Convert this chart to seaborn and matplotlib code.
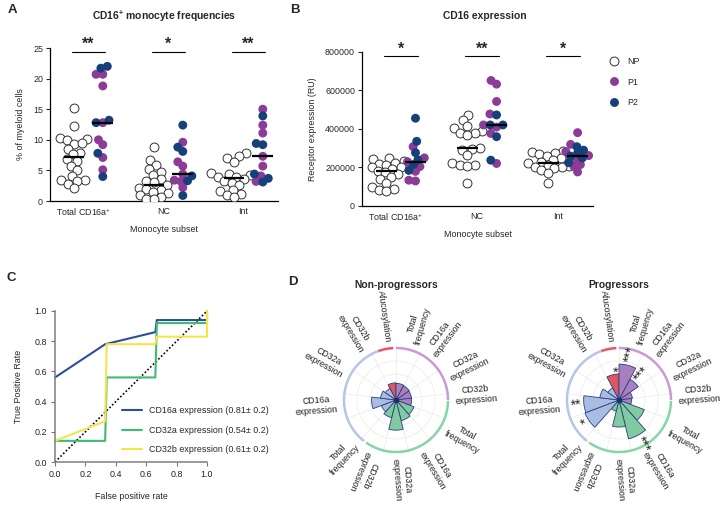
import warnings
import numpy as np
import pandas as pd
import matplotlib
matplotlib.use("Agg")
import matplotlib.pyplot as plt
import seaborn as sns
from matplotlib.lines import Line2D
from matplotlib.collections import PathCollection

warnings.filterwarnings("ignore")

sns.set_theme(style="ticks")
plt.rcParams["font.family"] = ["Liberation Sans", "DejaVu Sans"]
plt.rcParams["mathtext.default"] = "regular"

subsets = ["Total CD16a$^{+}$", "NC", "Int"]

# panel A - % of myeloid cells (Total, NC, Int)
freq_np = [
    [15.2, 12.2, 10.2, 10.3, 9.9, 9.3, 9.4, 8.5, 7.8, 7.6, 6.6, 6.8, 5.8, 5.0, 4.1, 3.4, 3.2, 3.4, 2.8, 2.1],
    [8.9, 6.7, 5.9, 5.3, 4.8, 4.3, 3.6, 3.3, 3.1, 2.6, 2.2, 2.0, 1.8, 1.5, 1.3, 0.9, 0.6, 0.3, 0.3],
    [7.8, 7.3, 7.0, 6.4, 4.6, 4.4, 4.2, 4.0, 3.9, 3.6, 3.3, 3.0, 2.6, 1.8, 1.6, 1.2, 0.9, 0.6],
]
freq_p1 = [
    [20.7, 20.7, 18.8, 12.8, 10.0, 9.2, 7.1, 5.1],
    [9.6, 6.4, 5.7, 4.4, 3.4, 3.2, 2.2],
    [15.0, 12.4, 11.1, 7.3, 5.7, 4.1, 3.2],
]
freq_p2 = [
    [22.0, 21.7, 13.2, 12.8, 7.8, 4.0],
    [12.4, 8.8, 8.1, 4.1, 3.3, 0.9],
    [13.9, 9.4, 9.2, 4.4, 3.7, 3.1],
]
freq_stars = ["**", "*", "**"]

# panel B - receptor expression (RU)
expr_np = [
    [250e3, 245e3, 235e3, 225e3, 220e3, 215e3, 205e3, 200e3, 190e3, 180e3, 175e3, 165e3, 150e3, 140e3, 120e3, 100e3, 90e3, 85e3, 80e3],
    [475e3, 447e3, 416e3, 405e3, 390e3, 381e3, 380e3, 370e3, 300e3, 295e3, 290e3, 264e3, 221e3, 215e3, 212e3, 210e3, 117e3],
    [287e3, 282e3, 277e3, 270e3, 262e3, 250e3, 240e3, 230e3, 221e3, 215e3, 210e3, 205e3, 200e3, 195e3, 186e3, 169e3, 122e3],
]
expr_p1 = [
    [308e3, 250e3, 230e3, 205e3, 180e3, 134e3, 130e3],
    [652e3, 633e3, 543e3, 478e3, 421e3, 410e3, 377e3, 221e3],
    [381e3, 320e3, 283e3, 262e3, 240e3, 215e3, 205e3, 177e3],
]
expr_p2 = [
    [456e3, 336e3, 277e3, 240e3, 215e3, 185e3],
    [473e3, 421e3, 421e3, 360e3, 238e3],
    [308e3, 290e3, 275e3, 259e3, 250e3, 225e3],
]
expr_stars = ["*", "**", "*"]

# panel C - ROC curves
roc_names = ["CD16a expression (0.81\u00b1 0.2)",
             "CD32a expression (0.54\u00b1 0.2)",
             "CD32b expression (0.61\u00b1 0.2)"]
roc_fpr = [
    [0.0, 0.33, 0.66, 0.67, 1.0, 1.0],
    [0.0, 0.33, 0.34, 0.66, 0.67, 1.0, 1.0],
    [0.0, 0.33, 0.34, 0.66, 0.67, 1.0, 1.0],
]
roc_tpr = [
    [0.56, 0.78, 0.86, 0.94, 0.94, 1.0],
    [0.14, 0.14, 0.56, 0.56, 0.92, 0.92, 1.0],
    [0.14, 0.27, 0.78, 0.78, 0.83, 0.83, 1.0],
]

# panel D - radial summary
radar_labels = ["Afucosylation",
                "Total\nfrequency", "CD16a\nexpression", "CD32a\nexpression", "CD32b\nexpression",
                "Total\nfrequency", "CD16a\nexpression", "CD32a\nexpression", "CD32b\nexpression",
                "Total\nfrequency", "CD16a\nexpression", "CD32a\nexpression", "CD32b\nexpression"]
radar_group = ["afuc"] + ["g1"] * 4 + ["g2"] * 4 + ["g3"] * 4
radar_np = [0.33, 0.32, 0.31, 0.30, 0.30, 0.37, 0.41, 0.58, 0.35, 0.30, 0.47, 0.30, 0.25]
radar_p = [0.50, 0.69, 0.45, 0.26, 0.24, 0.52, 0.77, 0.52, 0.22, 0.70, 0.68, 0.37, 0.26]
radar_p_stars = ["*", "***", "***", "", "", "", "***", "", "", "*", "**", "", ""]

NP_OFF, P_OFF = -0.12, 0.24
PAL = {"P1": "#8c3c96", "P2": "#173f7a"}
FS = 6.4
MS = 6.4       # drawn marker size
SWARM_MS = 4.6  # size used for the swarm layout (lets dots overlap like Prism)


def long_df(np_vals, p1_vals, p2_vals):
    rows = []
    for i in range(len(np_vals)):
        rows += [(i + NP_OFF, "NP", v) for v in np_vals[i]]
        rows += [(i + P_OFF, "P1", v) for v in p1_vals[i]]
        rows += [(i + P_OFF, "P2", v) for v in p2_vals[i]]
    return pd.DataFrame(rows, columns=["pos", "group", "value"])


def scatter_panel(ax, np_vals, p1_vals, p2_vals, stars, top, sig_y, star_y):
    df = long_df(np_vals, p1_vals, p2_vals)
    sns.swarmplot(data=df[df.group == "NP"], x="pos", y="value", native_scale=True,
                  color="white", edgecolor="#333333", linewidth=0.7, size=SWARM_MS, ax=ax)
    sns.swarmplot(data=df[df.group != "NP"], x="pos", y="value", hue="group",
                  palette=PAL, native_scale=True, size=SWARM_MS, linewidth=0, ax=ax, legend=False)
    for i in range(len(np_vals)):
        m_np = np.median(np_vals[i])
        m_p = np.median(list(p1_vals[i]) + list(p2_vals[i]))
        ax.hlines(m_np, i + NP_OFF - 0.13, i + NP_OFF + 0.13, color="black", lw=1.6, zorder=5)
        ax.hlines(m_p, i + P_OFF - 0.13, i + P_OFF + 0.13, color="black", lw=1.6, zorder=5)
        ax.plot([i + NP_OFF - 0.03, i + P_OFF + 0.03], [sig_y, sig_y], color="black", lw=0.8, clip_on=False)
        ax.text(i + (NP_OFF + P_OFF) / 2, star_y, stars[i], ha="center", va="center",
                fontsize=11.5, fontweight="bold")
    ax.set_xlim(-0.42, 2.43)
    ax.set_ylim(0, top)
    ax.set_xticks(range(3))
    ax.set_xticklabels(subsets, fontsize=FS)
    ax.tick_params(axis="x", length=0, pad=4)
    ax.tick_params(axis="y", labelsize=FS, length=3, width=0.8, pad=2)
    ax.set_xlabel("Monocyte subset", fontsize=FS, labelpad=5)
    for s in ["top", "right"]:
        ax.spines[s].set_visible(False)
    for s in ["left", "bottom"]:
        ax.spines[s].set_color("black")
        ax.spines[s].set_linewidth(0.9)


fig = plt.figure(figsize=(7.21, 5.09), dpi=100)


def fig_axes(left, top, right, bottom, **kw):
    W, H = 721, 509
    return fig.add_axes([left / W, 1 - bottom / H, (right - left) / W, (bottom - top) / H], **kw)


# ---- A
axA = fig_axes(50, 48, 278, 201)
scatter_panel(axA, freq_np, freq_p1, freq_p2, freq_stars, 25, 24.3, 25.6)
axA.set_yticks([0, 5, 10, 15, 20, 25])
axA.set_ylabel("% of myeloid cells", fontsize=FS, labelpad=6)
axA.set_title("CD16$^{+}$ monocyte frequencies", fontsize=7.4, fontweight="bold", pad=20)

# ---- B
axB = fig_axes(362, 52, 593, 206)
scatter_panel(axB, expr_np, expr_p1, expr_p2, expr_stars, 800000, 777000, 812000)
axB.set_yticks([0, 200000, 400000, 600000, 800000])
axB.set_yticklabels(["0", "200000", "400000", "600000", "800000"])
axB.set_ylabel("Receptor expression (RU)", fontsize=FS, labelpad=6)
axB.set_title("CD16 expression", fontsize=7.4, fontweight="bold", pad=24, x=0.53)

handles = [
    Line2D([], [], marker="o", ls="", markerfacecolor="white", markeredgecolor="#333333", markeredgewidth=0.7, markersize=MS),
    Line2D([], [], marker="o", ls="", markerfacecolor=PAL["P1"], markeredgewidth=0, markersize=MS),
    Line2D([], [], marker="o", ls="", markerfacecolor=PAL["P2"], markeredgewidth=0, markersize=MS),
]
fig.legend(handles, ["NP", "P1", "P2"], loc="upper left", bbox_to_anchor=(610 / 721, 1 - 57 / 509),
           frameon=False, fontsize=FS, handlelength=1, handletextpad=0.9, labelspacing=1.3,
           borderpad=0, borderaxespad=0)

# ---- C
axC = fig_axes(55, 311, 207, 462)
roc_df = pd.DataFrame(
    [(roc_names[k], x, y) for k in range(3) for x, y in zip(roc_fpr[k], roc_tpr[k])],
    columns=["marker", "fpr", "tpr"])
sns.lineplot(data=roc_df, x="fpr", y="tpr", hue="marker", sort=False, estimator=None,
             palette=["#2b4f9e", "#3dbb6e", "#f6e44c"], lw=1.5, ax=axC)
axC.plot([0, 1], [0, 1], ls=(0, (1, 1.3)), color="black", lw=1.2, zorder=1)
for ln in axC.get_lines():
    ln.set_clip_on(False)
axC.set_xlim(0, 1)
axC.set_ylim(0, 1)
axC.set_xticks(np.arange(0, 1.01, 0.2))
axC.set_yticks(np.arange(0, 1.01, 0.2))
axC.set_xticklabels([f"{v:.1f}" for v in np.arange(0, 1.01, 0.2)])
axC.set_yticklabels([f"{v:.1f}" for v in np.arange(0, 1.01, 0.2)])
axC.tick_params(labelsize=FS, length=3, width=0.8, color="#777777", labelcolor="#222222", pad=3)
axC.set_xlabel("False positive rate", fontsize=FS, labelpad=9)
axC.set_ylabel("True Positive Rate", fontsize=FS, labelpad=8)
for s in ["top", "right"]:
    axC.spines[s].set_visible(False)
for s in ["left", "bottom"]:
    axC.spines[s].set_color("#7f7f7f")
    axC.spines[s].set_linewidth(1.1)
h, l = axC.get_legend_handles_labels()
axC.legend(h, l, loc="upper left", bbox_to_anchor=(122 / 721, 1 - 406 / 509),
           bbox_transform=fig.transFigure, frameon=False, fontsize=FS, handlelength=2.3,
           handletextpad=0.7, labelspacing=1.2, borderpad=0, borderaxespad=0)

# ---- D
bar_col = {"afuc": "#e0555f", "g1": "#a97fbf", "g2": "#7fcaa0", "g3": "#a9bce3"}
arc_col = {"afuc": "#e8565e", "g1": "#c99ad3", "g2": "#86d5a6", "g3": "#b6c6e8"}
arc_span = {"afuc": (-20, -3), "g1": (0, 90), "g2": (91, 215), "g3": (218, 340)}
label_ang = [352, 16, 37, 64, 86, 119, 149, 176, 203, 224, 266, 299, 329]
n = len(radar_labels)
step = 360 / n
centers = np.radians(np.arange(n) * step - step / 2)


def radial_text(ax, ang, r, txt, fs, **kw):
    a = ang % 360
    if 205 < a < 360:
        rot, ha = 270 - a, "right"
    else:
        rot, ha = 90 - a, "left"
    ax.text(np.radians(ang), r, txt, rotation=rot, rotation_mode="anchor", ha=ha, va="center",
            fontsize=fs, clip_on=False, multialignment="center", **kw)


def radar_panel(cx, cy, values, stars, title):
    R = 52
    ax = fig_axes(cx - R * 1.05, cy - R * 1.05, cx + R * 1.05, cy + R * 1.05, projection="polar")
    ax.set_theta_zero_location("N")
    ax.set_theta_direction(-1)
    ax.set_ylim(0, 1.05)
    ax.spines["polar"].set_visible(False)
    ax.set_xticks(np.radians(np.arange(n) * step))
    ax.set_xticklabels([])
    ax.set_yticks([0.25, 0.5, 0.75, 1.0])
    ax.set_yticklabels([])
    ax.grid(color="#ededed", lw=0.6)
    ax.bar(centers, values, width=np.radians(step), bottom=0,
           color=[bar_col[g] for g in radar_group], edgecolor="#2d3f7c", linewidth=0.6, zorder=3)
    ax.plot([0], [0], "o", color="#1d2f6b", ms=3, zorder=4)
    for g, (a0, a1) in arc_span.items():
        t = np.radians(np.linspace(a0, a1, 100))
        ax.plot(t, np.ones_like(t), color=arc_col[g], lw=1.8, solid_capstyle="butt", zorder=2)
    for ang, txt in zip(label_ang, radar_labels):
        radial_text(ax, ang, 1.13, txt, 6.3, color="#222222")
    if stars is not None:
        for c, v, s in zip(centers, values, stars):
            if s:
                radial_text(ax, np.degrees(c), v + 0.05, s, 10)
    fig.text(cx / 721, 1 - 285 / 509, title, ha="center", va="center", fontsize=7.4, fontweight="bold")


radar_panel(396, 400, radar_np, None, "Non-progressors")
radar_panel(619, 400, radar_p, radar_p_stars, "Progressors")

# panel letters
for letter, x, y in [("A", 12, 10), ("B", 295, 10), ("C", 11, 278), ("D", 293, 282)]:
    fig.text(x / 721, 1 - y / 509, letter, fontsize=9.5, fontweight="bold", ha="center", va="center")

# lay the swarms out with the small size, then freeze them and draw bigger dots
fig.canvas.draw()
for ax in (axA, axB):
    for coll in ax.collections:
        if isinstance(coll, PathCollection):
            if "draw" in coll.__dict__:
                del coll.draw
            coll.set_sizes([MS ** 2])

fig.savefig("out.png", dpi=100)
